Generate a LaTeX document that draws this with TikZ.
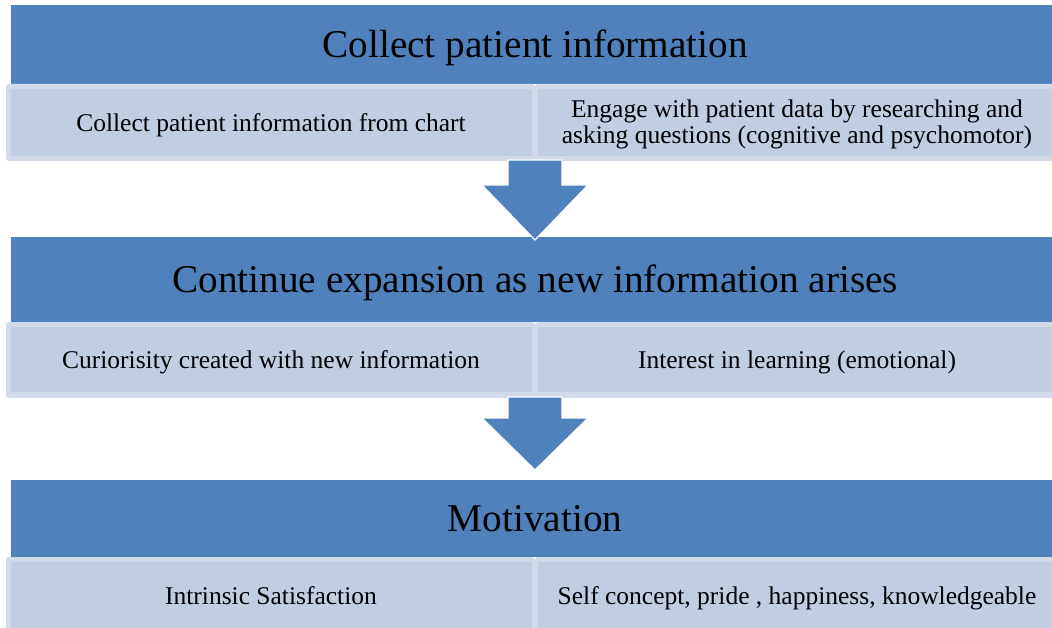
\documentclass[tikz,border=0pt]{standalone}
\usepackage{fontspec}
\setmainfont{Liberation Serif}
\definecolor{hblue}{HTML}{4F81BD}
\definecolor{rowfill}{HTML}{C1CDE1}
\definecolor{rowedge}{HTML}{D2DAE9}
\begin{document}
\begin{tikzpicture}[x=1pt,y=-1pt,
  headbar/.style={fill=hblue, draw=none, inner sep=0pt, anchor=north west,
    minimum width=1048pt, text height=26pt, text depth=0pt,
    font=\fontsize{39.3}{44}\selectfont},
  rowtext/.style={inner sep=0pt, anchor=base, font=\fontsize{25.5}{26.5}\selectfont},
  rowouter/.style={fill=rowedge, rounded corners=3pt},
  rowinner/.style={fill=rowfill},
  blockarrow/.style={fill=hblue, draw=white, line width=1.2pt, line join=miter}
]
\useasboundingbox (0,0) rectangle (1052,628);

% ---------- Header 1 and row 1
\node[headbar, minimum height=79pt] (h1) at (11,5) {Collect patient information};
\fill[rowouter] (6,84) rectangle (535,161);
\fill[rowinner] (11,89) rectangle (532,156);
\fill[rowouter] (535,84) rectangle (1062,161);
\fill[rowinner] (538,89) rectangle (1062,156);
\node[rowtext] (l1) at (271,131.5) {Collect patient information from chart};
\node[inner sep=0pt, anchor=north, align=center, font=\fontsize{25.5}{26.5}\selectfont] (r1) at (797,99.5)
  {Engage with patient data by researching and\\asking questions (cognitive and psychomotor)};

% ---------- Header 2 and row 2
\node[headbar, minimum height=85pt] (h2) at (11,237) {Continue expansion as new information arises};
\fill[rowouter] (6,322) rectangle (535,398);
\fill[rowinner] (11,327) rectangle (532,392);
\fill[rowouter] (535,322) rectangle (1062,398);
\fill[rowinner] (538,327) rectangle (1062,392);
\node[rowtext] (l2) at (271,368.5) {Curiorisity created with new information};
\node[rowtext] (r2) at (797,368.5) {Interest in learning (emotional)};

% ---------- Header 3 and row 3
\node[headbar, minimum height=77pt] (h3) at (11,480) {Motivation};
\fill[rowouter] (6,557) rectangle (535,640);
\fill[rowinner] (11,562) rectangle (532,640);
\fill[rowouter] (535,557) rectangle (1062,640);
\fill[rowinner] (538,562) rectangle (1062,640);
\node[rowtext] (l3) at (271,604) {Intrinsic Satisfaction};
\node[rowtext] (r3) at (797,604) {Self concept, pride , happiness, knowledgeable};

% ---------- Block arrows
\coordinate (a1) at (535,160);
\coordinate (a2) at (535,397);
\draw[blockarrow] ([xshift=-27pt]a1) -- ([xshift=27pt]a1) -- ([xshift=27pt,yshift=-25pt]a1)
  -- ([xshift=53pt,yshift=-25pt]a1) -- ([yshift=-80pt]a1) -- ([xshift=-53pt,yshift=-25pt]a1)
  -- ([xshift=-27pt,yshift=-25pt]a1) -- cycle;
\draw[blockarrow] ([xshift=-27pt]a2) -- ([xshift=27pt]a2) -- ([xshift=27pt,yshift=-21pt]a2)
  -- ([xshift=53pt,yshift=-21pt]a2) -- ([yshift=-73pt]a2) -- ([xshift=-53pt,yshift=-21pt]a2)
  -- ([xshift=-27pt,yshift=-21pt]a2) -- cycle;
\end{tikzpicture}
\end{document}
